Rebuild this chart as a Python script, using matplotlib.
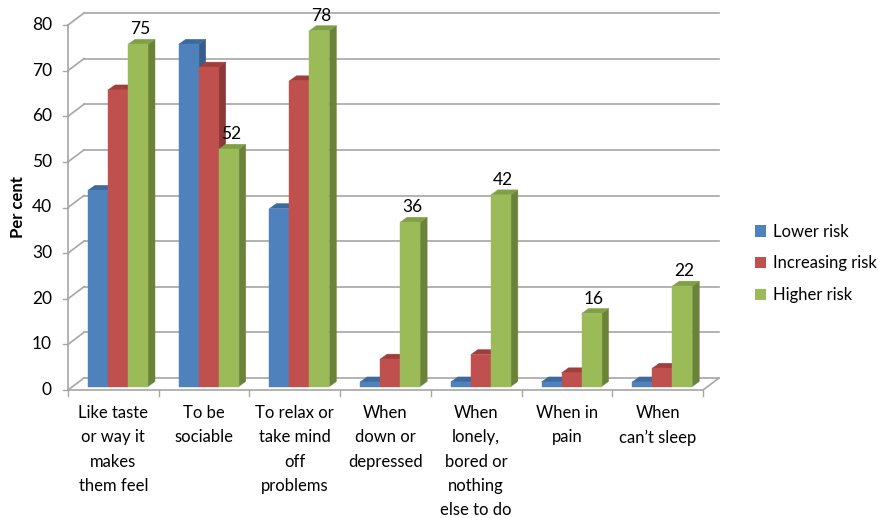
import numpy as np
import matplotlib.pyplot as plt
from matplotlib.patches import Polygon, Patch

plt.rcParams['font.family'] = ['Lato', 'DejaVu Sans']

categories = ["Like taste\nor way it\nmakes\nthem feel", "To be\nsociable",
              "To relax or\ntake mind\noff\nproblems", "When\ndown or\ndepressed",
              "When\nlonely,\nbored or\nnothing\nelse to do", "When in\npain",
              "When\ncan\u2019t sleep"]
series = ["Lower risk", "Increasing risk", "Higher risk"]
lower = [43, 75, 39, 1, 1, 1, 1]
increasing = [65, 70, 67, 6, 7, 3, 4]
higher = [75, 52, 78, 36, 42, 16, 22]
yticks = [0, 10, 20, 30, 40, 50, 60, 70, 80]

# front / top / side colours per series
colors = [("#4F81BD", "#3D6A9E", "#385D8A"),
          ("#C0504D", "#A13E3B", "#8C3836"),
          ("#9BBB59", "#80A045", "#6B8239")]

W, H = 879, 518
fig = plt.figure(figsize=(W / 100, H / 100), dpi=100)
ax = fig.add_axes([68 / W, 128 / H, 635 / W, 365 / H])
n = len(categories)
ax.set_xlim(0, n)
ax.set_ylim(0, 80)
ax.axis("off")

pxx = 635 / n     # pixels per category
pxy = 365 / 80    # pixels per percent
wdx, wdy = 16 / pxx, 12 / pxy       # depth of walls
fdx, fdy = 5 / pxx, 3.5 / pxy       # bar front offset
bdx, bdy = 7 / pxx, 5 / pxy         # bar depth
bw = 20 / pxx
gap = 15 / pxx

grid = "#A6A6A6"
# back wall gridlines + side wall lines
for v in yticks:
    ax.plot([wdx, n + wdx], [v + wdy, v + wdy], color=grid, lw=1.2, clip_on=False, zorder=1)
    ax.plot([0, wdx], [v, v + wdy], color=grid, lw=1.2, clip_on=False, zorder=1)
    ax.plot([-5 / pxx, 0], [v, v], color=grid, lw=1, clip_on=False, zorder=1)
# floor and front axis
ax.plot([0, n, n + wdx], [0, 0, wdy], color=grid, lw=1.2, clip_on=False, zorder=1)
ax.plot([0, 0], [0, 80], color=grid, lw=1.2, clip_on=False, zorder=1)
for i in range(n + 1):
    ax.plot([i, i], [0, -6 / pxy], color=grid, lw=1, clip_on=False, zorder=1)


def bar3d(x0, v, cols, z):
    x1 = x0 + bw
    y0 = fdy
    y1 = v + fdy
    front = [(x0, y0), (x1, y0), (x1, y1), (x0, y1)]
    top = [(x0, y1), (x1, y1), (x1 + bdx, y1 + bdy), (x0 + bdx, y1 + bdy)]
    side = [(x1, y0), (x1 + bdx, y0 + bdy), (x1 + bdx, y1 + bdy), (x1, y1)]
    for poly, c in ((side, cols[2]), (top, cols[1]), (front, cols[0])):
        ax.add_patch(Polygon(poly, closed=True, facecolor=c, edgecolor=c,
                             lw=0.3, zorder=z, clip_on=False))


data = [lower, increasing, higher]
z = 2
for i in range(n):
    for s in range(3):
        x0 = i + gap + fdx + s * bw
        bar3d(x0, data[s][i], colors[s], z)
        z += 1
    xl = i + gap + fdx + 2.5 * bw + bdx * 0.3
    ax.text(xl, higher[i] + fdy + 1.5, str(higher[i]), ha="center", va="bottom",
            fontsize=12.5, zorder=50, clip_on=False)

# tick labels
for v in yticks:
    ax.text(-16 / pxx, v, str(v), ha="right", va="center", fontsize=12.5, clip_on=False)
for i, c in enumerate(categories):
    ax.text(i + 0.5, -15 / pxy, c, ha="center", va="top", fontsize=12,
            linespacing=1.64, clip_on=False)

fig.text(18 / W, 1 - 207 / H, "Per cent", rotation=90, ha="center", va="center",
         fontsize=12, fontweight="bold")

handles = [Patch(facecolor=colors[k][0], edgecolor="none") for k in range(3)]
fig.legend(handles, series, loc="upper left", bbox_to_anchor=(748 / W, 1 - 217 / H),
           frameon=False, fontsize=12, handlelength=0.7, handleheight=0.7,
           handletextpad=0.4, labelspacing=0.95, borderaxespad=0)

fig.savefig("out.png", dpi=100)
